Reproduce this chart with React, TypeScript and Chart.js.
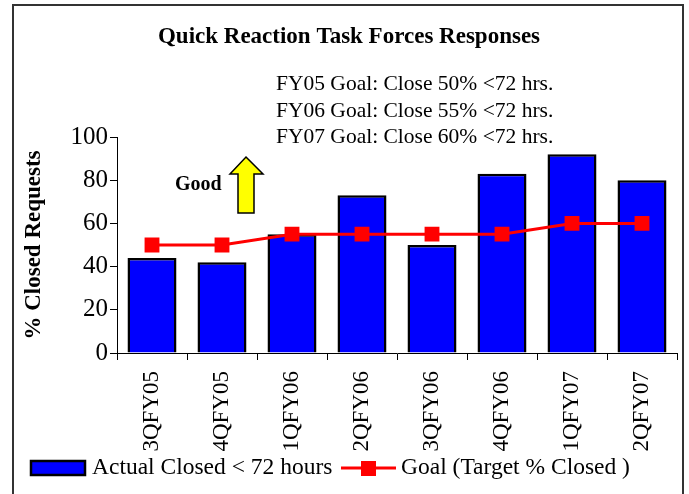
import React, { useEffect, useRef } from "react";
import { Chart, registerables } from "chart.js";

Chart.register(...registerables);

const categories = ["3QFY05", "4QFY05", "1QFY06", "2QFY06", "3QFY06", "4QFY06", "1QFY07", "2QFY07"];
const actualClosed = [44, 42, 55, 73, 50, 83, 92, 80];
const goalTarget = [50, 50, 55, 55, 55, 55, 60, 60];
const chartTitle = "Quick Reaction Task Forces Responses";
const goalNotes = [
  "FY05 Goal: Close 50% <72 hrs.",
  "FY06 Goal: Close 55% <72 hrs.",
  "FY07 Goal: Close 60% <72 hrs.",
];
const yTitle = "% Closed Requests";
const goodLabel = "Good";
const legendActual = "Actual Closed < 72 hours";
const legendGoal = "Goal (Target % Closed )";

const SERIF = "'Liberation Serif', 'Times New Roman', serif";

const decorPlugin = {
  id: "decor",
  beforeDraw(chart: any) {
    const ctx = chart.ctx;
    ctx.save();
    ctx.fillStyle = "#ffffff";
    ctx.fillRect(0, 0, chart.width, chart.height);
    ctx.restore();
  },
  afterDraw(chart: any) {
    const ctx = chart.ctx;
    ctx.save();
    // outer border
    ctx.strokeStyle = "#333333";
    ctx.lineWidth = 2;
    ctx.strokeRect(13, 5, 670, 500);

    ctx.fillStyle = "#000";
    // title
    ctx.font = `bold 23px ${SERIF}`;
    ctx.textAlign = "center";
    ctx.textBaseline = "middle";
    ctx.fillText(chartTitle, 349, 37);

    // goal notes
    ctx.font = `21.5px ${SERIF}`;
    ctx.textAlign = "left";
    goalNotes.forEach((t, i) => ctx.fillText(t, 276, 84.5 + i * 26.5));

    // y title
    ctx.save();
    ctx.translate(34, 245);
    ctx.rotate(-Math.PI / 2);
    ctx.font = `bold 23px ${SERIF}`;
    ctx.textAlign = "center";
    ctx.fillText(yTitle, 0, 0);
    ctx.restore();

    // Good
    ctx.font = `bold 20px ${SERIF}`;
    ctx.textAlign = "left";
    ctx.fillText(goodLabel, 175, 185);

    // arrow
    ctx.beginPath();
    ctx.moveTo(246, 157);
    ctx.lineTo(263, 174);
    ctx.lineTo(254, 174);
    ctx.lineTo(254, 213);
    ctx.lineTo(238, 213);
    ctx.lineTo(238, 174);
    ctx.lineTo(230, 174);
    ctx.closePath();
    ctx.fillStyle = "#ffff00";
    ctx.fill();
    ctx.strokeStyle = "#000";
    ctx.lineWidth = 1.5;
    ctx.stroke();

    // legend
    ctx.fillStyle = "#0000ff";
    ctx.fillRect(31, 461, 54, 14);
    ctx.strokeStyle = "#000";
    ctx.lineWidth = 2.5;
    ctx.strokeRect(31, 461, 54, 14);
    ctx.fillStyle = "#000";
    ctx.font = `23.5px ${SERIF}`;
    ctx.textBaseline = "middle";
    ctx.fillText(legendActual, 92, 468);

    ctx.strokeStyle = "#ff0000";
    ctx.lineWidth = 3;
    ctx.beginPath();
    ctx.moveTo(341, 468);
    ctx.lineTo(396, 468);
    ctx.stroke();
    ctx.fillStyle = "#ff0000";
    ctx.fillRect(361, 461, 15, 15);
    ctx.fillStyle = "#000";
    ctx.fillText(legendGoal, 401, 468);
    ctx.restore();
  },
};

export default function App() {
  const ref = useRef<HTMLCanvasElement>(null);
  useEffect(() => {
    if (!ref.current) return;
    const chart = new Chart(ref.current, {
      type: "bar",
      data: {
        labels: categories,
        datasets: [
          {
            type: "line",
            label: legendGoal,
            data: goalTarget,
            borderColor: "#ff0000",
            backgroundColor: "#ff0000",
            borderWidth: 3,
            pointStyle: "rect",
            pointRadius: 10.5,
            pointBorderWidth: 0,
            order: 0,
          } as any,
          {
            type: "bar",
            label: legendActual,
            data: actualClosed,
            backgroundColor: "#0000ff",
            borderColor: "#000000",
            borderWidth: 2.5,
            categoryPercentage: 1,
            barPercentage: 0.7,
            order: 1,
          } as any,
        ],
      },
      options: {
        responsive: false,
        animation: false,
        layout: { padding: { top: 137, right: 12, bottom: 40, left: 0 } },
        plugins: {
          legend: { display: false },
          title: { display: false },
          tooltip: { enabled: false },
        },
        scales: {
          x: {
            offset: true,
            afterFit: (s: any) => {
              s.height = 101;
            },
            grid: {
              offset: true,
              drawOnChartArea: false,
              drawTicks: true,
              tickLength: 7,
              color: "#000",
              lineWidth: 1,
            },
            border: { display: true, color: "#000", width: 1 },
            ticks: {
              maxRotation: 90,
              minRotation: 90,
              autoSkip: false,
              padding: 11,
              color: "#000",
              font: { family: SERIF, size: 23 },
            },
          },
          y: {
            min: 0,
            max: 100,
            afterFit: (s: any) => {
              s.width = 117;
            },
            grid: {
              drawOnChartArea: false,
              drawTicks: true,
              tickLength: 7,
              color: "#000",
            },
            border: { display: true, color: "#000", width: 1 },
            ticks: {
              stepSize: 20,
              padding: 2,
              color: "#000",
              font: { family: SERIF, size: 25 },
            },
          },
        },
      },
      plugins: [decorPlugin],
    });
    return () => chart.destroy();
  }, []);
  return (
    <div style={{ position: "absolute", left: 0, top: 0, width: 689, height: 494 }}>
      <canvas ref={ref} width={689} height={494} style={{ width: 689, height: 494, display: "block" }} />
    </div>
  );
}
